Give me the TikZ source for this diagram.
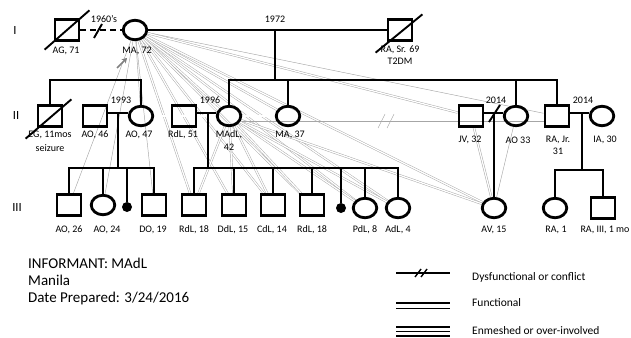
\documentclass[tikz,border=0pt]{standalone}
\usepackage{fontspec}
\setmainfont{Carlito}
\usetikzlibrary{shapes.geometric,calc,arrows.meta,backgrounds}

\tikzset{
  homme/.style={draw, line width=2.8pt, minimum width=24pt, minimum height=20.5pt, inner sep=0pt},
  femme/.style={draw, ellipse, line width=2.8pt, minimum width=23.5pt, minimum height=19.5pt, inner sep=0pt},
  perte/.style={circle, fill=black, minimum size=10pt, inner sep=0pt},
  lbl/.style={font=\fontsize{10}{11}\selectfont, align=center, inner sep=0pt},
  gen/.style={font=\fontsize{12.5}{14}\selectfont, inner sep=0pt},
  kin/.style={line width=1.9pt},
  rel/.style={draw=gray!70, line width=0.45pt},
  func/.style={draw=gray!70, line width=0.45pt, double=white, double distance=1.3pt},
  legtxt/.style={font=\fontsize{11.5}{13}\selectfont, anchor=west, inner sep=0pt},
  legline/.style={line width=1.4pt},
}

\begin{document}
\begin{tikzpicture}[x=1pt, y=-1pt]
    \useasboundingbox (0,0) rectangle (631,337);

    % Générations
    \node[gen] (gI)   at (15,30)  {I};
    \node[gen] (gII)  at (16,115) {II};
    \node[gen] (gIII) at (17,207) {III};

    % Génération I
    \node[homme] (ag)  at (67,30)  {};
    \node[femme] (ma)  at (135,30) {};
    \node[homme] (ras) at (400,30) {};
    \draw[kin] ($(ag.south west)+(-9,8)$) -- ($(ag.north east)+(9,-8)$);
    \draw[kin] ($(ras.south west)+(-11,11)$) -- ($(ras.north east)+(9,-4)$);
    \node[lbl] (lag)  at (66,51)  {AG, 71};
    \node[lbl] (lma)  at (137,51) {MA, 72};
    \node[lbl] (lras) at (400,50) {RA, Sr. 69};
    \node[lbl] (lras2) at (400,61) {T2DM};

    % Unions génération I
    \draw[kin, dash pattern=on 6pt off 4pt] (ag) -- (ma);
    \coordinate (div1) at (98,31);
    \draw[kin] ($(div1)+(-4,7)$) -- ($(div1)+(4,-7)$);
    \node[lbl] (t1960) at (104,19) {1960's};
    \draw[kin] (ma) -- (ras);
    \node[lbl] (t1972) at (275,19) {1972};

    % Génération II
    \node[homme] (eg)   at (50,116)  {};
    \node[homme] (aoh)  at (95,116)  {};
    \node[femme] (aof)  at (141,116) {};
    \node[homme] (rdl)  at (184,116) {};
    \node[femme] (madl) at (229,116) {};
    \node[femme] (ma37) at (288,116) {};
    \node[homme] (jv)   at (471,116) {};
    \node[femme] (ao33) at (516,116) {};
    \node[homme] (raj)  at (557,116) {};
    \node[femme] (ia)   at (602,116) {};
    \draw[kin] ($(eg.south west)+(-11,11)$) -- ($(eg.north east)+(8,-5)$);

    \node[lbl] (leg)   at (50,135)  {EG, 11mos};
    \node[lbl] (leg2)  at (50,148)  {seizure};
    \node[lbl] (laoh)  at (95,135)  {AO, 46};
    \node[lbl] (laof)  at (139,135) {AO, 47};
    \node[lbl] (lrdl)  at (183,135) {RdL, 51};
    \node[lbl] (lmadl) at (229,135) {MAdL,};
    \node[lbl] (lmadl2) at (229,147) {42};
    \node[lbl] (lma37) at (290,135) {MA, 37};
    \node[lbl] (ljv)   at (470,140) {JV, 32};
    \node[lbl] (lao33) at (518,140) {AO 33};
    \node[lbl] (lraj)  at (558,140) {RA, Jr.};
    \node[lbl] (lraj2) at (558,151) {31};
    \node[lbl] (lia)   at (605,140) {IA, 30};

    % Fratries génération II
    \coordinate (fII) at (275,80);
    \draw[kin] (fII |- ma) -- (fII);
    \draw[kin] (madl) |- (fII) -| (raj);
    \draw[kin] (ma37) -- (ma37 |- fII);
    \draw[kin] (ao33) -- (ao33 |- fII);
    \coordinate (fIIg) at (96,80);
    \draw[kin] (eg) |- (fIIg) -| (aof);

    % Génération III
    \node[homme] (ao26) at (69,205)  {};
    \node[femme] (ao24) at (103,205) {};
    \node[perte] (p1)   at (127,207) {};
    \node[homme] (do19) at (154,205) {};
    \node[homme] (rdla) at (194,205) {};
    \node[homme] (ddl)  at (234,205) {};
    \node[homme] (cdl)  at (273,205) {};
    \node[homme] (rdlb) at (312,205) {};
    \node[perte] (p2)   at (341,208) {};
    \node[femme] (pdl)  at (365,208) {};
    \node[femme] (adl)  at (398,208) {};
    \node[femme] (av)   at (494,208) {};
    \node[femme] (ra1)  at (555,208) {};
    \node[homme] (ra3)  at (603,208) {};

    \node[lbl] (lao26) at (69,230)  {AO, 26};
    \node[lbl] (lao24) at (107,230) {AO, 24};
    \node[lbl] (ldo19) at (153,230) {DO, 19};
    \node[lbl] (lrdla) at (194,230) {RdL, 18};
    \node[lbl] (lddl)  at (233,230) {DdL, 15};
    \node[lbl] (lcdl)  at (272,230) {CdL, 14};
    \node[lbl] (lrdlb) at (312,230) {RdL, 18};
    \node[lbl] (lpdl)  at (365,230) {PdL, 8};
    \node[lbl] (ladl)  at (398,230) {AdL, 4};
    \node[lbl] (lav)   at (494,230) {AV, 15};
    \node[lbl] (lra1)  at (556,230) {RA, 1};
    \node[lbl] (lra3)  at (605,230) {RA, III, 1 mo};

    % Unions génération II et enfants
    \draw[kin] ([yshift=3pt]aoh.east) -- ([yshift=3pt]aof.west);
    \coordinate (u1993) at (118,113);
    \coordinate (fIIIa) at (112,168);
    \node[lbl] (t1993) at (121,100) {1993};
    \draw[kin] (u1993) -- (u1993 |- fIIIa);
    \draw[kin] (ao26) |- (fIIIa) -| (do19);
    \foreach \n in {ao24,p1} \draw[kin] (\n) -- (\n |- fIIIa);

    \draw[kin] ([yshift=3pt]rdl.east) -- ([yshift=3pt]madl.west);
    \coordinate (u1996) at (208,113);
    \coordinate (fIIIb) at (296,168);
    \node[lbl] (t1996) at (210,100) {1996};
    \draw[kin] (u1996) -- (u1996 |- fIIIb);
    \draw[kin] (rdla) |- (fIIIb) -| (adl);
    \foreach \n in {ddl,cdl,rdlb,p2,pdl} \draw[kin] (\n) -- (\n |- fIIIb);

    \draw[kin] ([yshift=3pt]jv.east) -- ([yshift=3pt]ao33.west);
    \coordinate (u2014a) at (494,113);
    \node[lbl] (t2014a) at (496,100) {2014};
    \draw[kin] (u2014a) -- (av);
    \draw[kin] ($(u2014a)+(-5,9)$) -- ($(u2014a)+(6,-8)$);

    \draw[kin] ([yshift=3pt]raj.east) -- ([yshift=3pt]ia.west);
    \coordinate (u2014b) at (582,113);
    \coordinate (fIIIc) at (579,170);
    \node[lbl] (t2014b) at (583,100) {2014};
    \draw[kin] (u2014b) -- (u2014b |- fIIIc);
    \draw[kin] (ra1) |- (fIIIc) -| (ra3);

    % Relations (gris), sous le reste
    \begin{scope}[on background layer]
    \foreach \n in {ao26,ao24,do19,aof,raj} \draw[rel] (ma) -- (\n);
    \foreach \n in {madl,ma37,rdla,ddl,cdl,rdlb,pdl,adl,jv,av} \draw[func] (ma) -- (\n);
    \foreach \n in {rdla,ddl,cdl,rdlb,pdl,adl,av} \draw[func] (madl) -- (\n);
    \draw[func] (aof) -- (madl);
    \draw[func] (madl) -- (ma37);
    \draw[func] (jv) -- (av);
    \draw[rel] (ao33) -- (av);
    \draw[rel] ([yshift=-5pt]madl.east) -- ([yshift=-5pt]raj.west);
    \coordinate (cf) at (386,121);
    \draw[rel] ($(cf)+(-8,7)$) -- ($(cf)+(-1,-7)$);
    \draw[rel] ($(cf)+(1,7)$) -- ($(cf)+(8,-7)$);
    \end{scope}

    % Flèche informant
    \coordinate (fl0) at (117,68);
    \coordinate (fl1) at (127,58);
    \draw[-{Stealth[length=5pt,width=6pt]}, gray, line width=1.6pt] (fl0) -- (fl1);

    % Informations
    \node[font=\fontsize{15}{17}\selectfont, anchor=base west, inner sep=0pt] (info1) at (28,268) {INFORMANT: MAdL};
    \node[font=\fontsize{15}{17}\selectfont, anchor=base west, inner sep=0pt] (info2) at (28,285) {Manila};
    \node[font=\fontsize{15}{17}\selectfont, anchor=base west, inner sep=0pt] (info3) at (28,302) {Date Prepared: 3/24/2016};

    % Légende
    \coordinate (lgA) at (396,273);
    \coordinate (lgB) at (450,273);
    \draw[legline] (lgA) -- (lgB);
    \draw[legline] (415,277) -- (421,269);
    \draw[legline] (421,277) -- (427,269);
    \node[legtxt] (lg1) at (472,277) {Dysfunctional or conflict};

    \coordinate (lfA) at (396,303);
    \coordinate (lfB) at (450,303);
    \draw[legline] (lfA) -- (lfB);
    \draw[legline] ([yshift=-5.5pt]lfA) -- ([yshift=-5.5pt]lfB);
    \node[legtxt] (lg2) at (472,303) {Functional};

    \coordinate (leA) at (396,327);
    \coordinate (leB) at (450,327);
    \draw[legline] (leA) -- (leB);
    \draw[legline] ([yshift=-4.5pt]leA) -- ([yshift=-4.5pt]leB);
    \draw[legline] ([yshift=-9pt]leA) -- ([yshift=-9pt]leB);
    \node[legtxt] (lg3) at (472,331) {Enmeshed or over-involved};
\end{tikzpicture}
\end{document}
